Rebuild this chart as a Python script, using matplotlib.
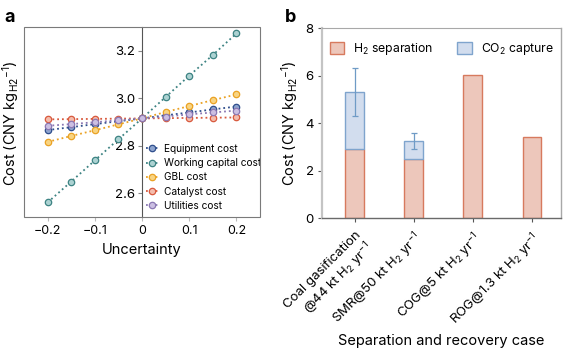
import numpy as np
import matplotlib
matplotlib.use('Agg')
import matplotlib.pyplot as plt
from matplotlib.patches import Rectangle, Patch

plt.rcParams['font.family'] = ['Inter', 'DejaVu Sans']
plt.rcParams['mathtext.fontset'] = 'custom'
plt.rcParams['mathtext.rm'] = 'Inter'
plt.rcParams['mathtext.it'] = 'Inter'
plt.rcParams['axes.unicode_minus'] = True

# ---- panel a: sensitivity data ----
unc = [-0.2, -0.15, -0.1, -0.05, 0.0, 0.05, 0.1, 0.15, 0.2]
equipment = [2.866, 2.878, 2.891, 2.903, 2.915, 2.928, 2.940, 2.953, 2.965]
working_cap = [2.561, 2.649, 2.738, 2.827, 2.915, 3.005, 3.095, 3.182, 3.273]
gbl = [2.816, 2.841, 2.865, 2.890, 2.915, 2.942, 2.967, 2.992, 3.016]
catalyst = [2.911, 2.912, 2.913, 2.914, 2.915, 2.916, 2.917, 2.918, 2.919]
utilities = [2.884, 2.891, 2.899, 2.907, 2.915, 2.923, 2.932, 2.940, 2.948]

series_a = [
    ('Equipment cost', equipment, '#2f4e8c', '#8ea5cf'),
    ('Working capital cost', working_cap, '#3d8383', '#acd2d2'),
    ('GBL cost', gbl, '#eaa224', '#f8d482'),
    ('Catalyst cost', catalyst, '#d8593d', '#f4bcac'),
    ('Utilities cost', utilities, '#8b78b3', '#cbbfe2'),
]

# ---- panel b: separation cost data ----
cases = ['Coal gasification\n@44 kt H$_2$ yr$^{-1}$', 'SMR@50 kt H$_2$ yr$^{-1}$',
         'COG@5 kt H$_2$ yr$^{-1}$', 'ROG@1.3 kt H$_2$ yr$^{-1}$']
h2_sep = [2.90, 2.48, 6.04, 3.42]
co2_cap = [2.42, 0.76, 0.0, 0.0]
co2_err = [1.02, 0.33, 0.0, 0.0]

fig = plt.figure(figsize=(5.64, 3.51), dpi=100)

# ---------------- a ----------------
ax = fig.add_axes([0.0426, 0.382, 0.4184, 0.541])
zs = {0: 3, 1: 2, 2: 4, 3: 5, 4: 6}
for i, (name, vals, ec, fc) in enumerate(series_a):
    ax.plot(unc, vals, ':', color=ec, lw=1.3, marker='o', ms=4.6, mfc=fc, mec=ec,
            mew=0.9, label=name, zorder=zs[i])
ax.set_xlim(-0.25, 0.25)
ax.set_ylim(2.5, 3.3)
for s in ['top', 'right', 'bottom']:
    ax.spines[s].set_visible(False)
ax.spines['left'].set_position(('data', 0))
ax.spines['left'].set_color('#555555')
ax.spines['left'].set_linewidth(0.8)
ax.add_patch(Rectangle((0, 0), 1, 1, transform=ax.transAxes, fill=False,
                       ec='#7a7a7a', lw=0.8, clip_on=False, zorder=10))
ax.set_xticks([-0.2, -0.1, 0, 0.1, 0.2])
ax.set_xticklabels(['\u22120.2', '\u22120.1', '0', '0.1', '0.2'])
ax.set_yticks([2.6, 2.8, 3.0, 3.2])
ax.set_yticklabels(['2.6', '2.8', '3.0', '3.2'])
ax.tick_params(axis='x', labelsize=9, length=3, color='#bbbbbb', pad=3)
ax.tick_params(axis='y', labelsize=9.5, length=3, color='#888888', pad=2)
ax.set_xlabel('Uncertainty', fontsize=10.5, labelpad=4)
fig.text(0.018, 0.65, r'Cost (CNY kg$_{\mathrm{H2}}$$^{-1}$)', rotation=90,
         fontsize=10.5, ha='center', va='center')
ax.legend(loc='lower left', bbox_to_anchor=(0.49, 0.0), frameon=False,
          fontsize=7.3, handlelength=1.3, handletextpad=0.5, labelspacing=0.42,
          borderaxespad=0.2)
fig.text(0.008, 0.95, 'a', fontsize=13, fontweight='bold', ha='left', va='center')

# ---------------- b ----------------
bx = fig.add_axes([0.571, 0.378, 0.424, 0.542])
x = np.arange(len(cases))
w = 0.31
bx.bar(x, h2_sep, w, color='#edc7bb', edgecolor='#d77a5e', lw=1.0, zorder=2)
has_co2 = np.array([c > 0 for c in co2_cap])
xc = x[has_co2]
bx.bar(xc, np.array(co2_cap)[has_co2], w, bottom=np.array(h2_sep)[has_co2],
       color='#d2ddee', edgecolor='#7fa4cd', lw=1.0, zorder=2)
tot = np.array(h2_sep) + np.array(co2_cap)
bx.errorbar(xc, tot[has_co2], yerr=np.array(co2_err)[has_co2], fmt='none',
            ecolor='#6f9bc6', elinewidth=0.9, capsize=2.5, capthick=0.9, zorder=3)
bx.set_xlim(-0.55, 3.5)
bx.set_ylim(0, 8)
bx.set_yticks([0, 2, 4, 6, 8])
bx.set_xticks(x)
bx.set_xticklabels(cases, rotation=45, ha='right', rotation_mode='anchor',
                   fontsize=9.5, linespacing=1.1)
bx.tick_params(axis='y', labelsize=9.5, length=3, color='#555555', pad=3)
bx.tick_params(axis='x', length=3, color='#555555', pad=5)
bx.spines['left'].set_color('#c4c4c4')
bx.spines['left'].set_linewidth(1.6)
bx.spines['right'].set_color('#a8a8a8')
bx.spines['right'].set_linewidth(1.0)
bx.spines['top'].set_color('#a8a8a8')
bx.spines['top'].set_linewidth(0.8)
bx.spines['bottom'].set_color('#6a6a6a')
bx.spines['bottom'].set_linewidth(1.0)
bx.set_ylabel(r'Cost (CNY kg$_{\mathrm{H2}}$$^{-1}$)', fontsize=10.5, labelpad=4)
bx.set_xlabel('Separation and recovery case', fontsize=10.5, labelpad=4)
handles = [Patch(fc='#edc7bb', ec='#d77a5e', lw=1.0, label='H$_2$ separation'),
           Patch(fc='#d2ddee', ec='#7fa4cd', lw=1.0, label='CO$_2$ capture')]
bx.legend(handles=handles, loc='upper center', ncol=2, frameon=False,
          fontsize=8.8, handlelength=1.2, handleheight=1.2, columnspacing=2.0,
          handletextpad=0.7, bbox_to_anchor=(0.5, 0.99))
fig.text(0.505, 0.95, 'b', fontsize=13, fontweight='bold', ha='left', va='center')

fig.savefig('out.png', dpi=100)
